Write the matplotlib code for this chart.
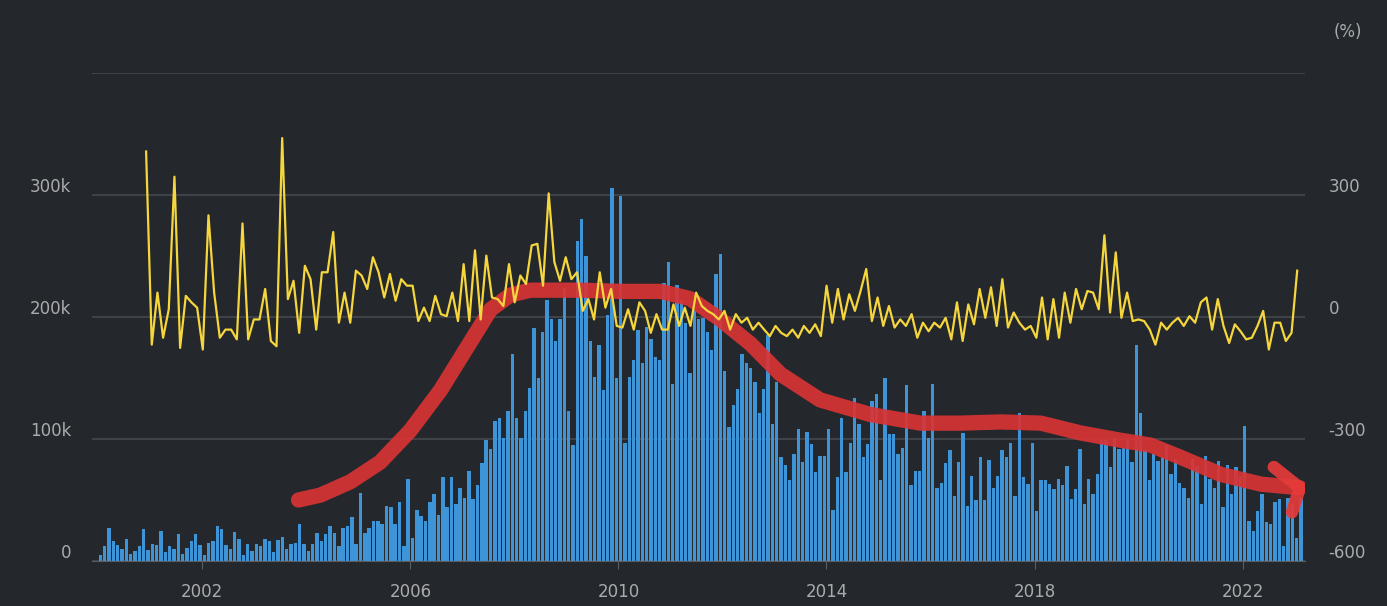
import numpy as np
import matplotlib
matplotlib.use("Agg")
import matplotlib.pyplot as plt
import matplotlib.transforms as mtransforms

plt.rcParams["axes.unicode_minus"] = False

bars_k = [
 5,12,27,16,13,10,18,6,8,12,26,9,
 14,13,25,7,12,10,22,6,11,16,22,13,
 5,15,16,29,26,13,10,24,18,5,14,8,
 14,12,18,16,7,17,20,10,14,15,30,14,
 8,14,23,16,22,29,23,12,27,29,36,14,
 56,23,27,33,33,30,45,44,30,48,12,67,
 19,42,37,33,48,55,38,69,44,69,47,60,
 52,74,51,62,80,99,92,115,117,101,123,170,
 117,101,123,142,191,150,188,214,198,180,198,224,
 123,95,262,280,250,180,151,177,140,202,306,150,
 299,97,151,165,189,162,192,182,167,165,228,245,
 145,226,214,195,154,206,198,199,188,173,235,252,
 156,110,128,141,170,162,158,147,121,141,185,112,
 147,85,79,66,88,108,81,106,96,73,86,86,
 108,42,69,117,73,97,134,112,85,96,131,137,
 66,150,104,104,88,93,144,62,74,74,123,101,
 145,60,64,80,91,53,81,105,45,70,50,85,
 50,83,60,70,91,85,97,53,121,69,63,97,
 41,66,66,63,59,67,62,78,51,59,92,47,
 67,55,71,99,99,77,101,92,93,99,81,177,
 121,91,66,88,82,85,95,71,84,64,60,52,
 84,78,47,86,67,60,82,44,79,55,77,70,
 111,33,25,41,55,32,30,48,51,12,52,47,
 19,52]

pct = [407,-68,60,-51,19,345,-76,52,36,23,-80,250,60,-51,-31,-31,-55,230,-55,-6,-6,69,-59,-72,440,44,89,-39,126,
 93,-31,110,110,209,-14,60,-14,114,102,69,147,110,48,106,40,93,77,77,-10,23,-10,52,7,2,60,-10,130,-10,164,-6,151,48,44,27,130,36,102,81,176,
 180,77,304,135,89,147,93,110,15,44,-6,110,23,69,-22,-26,19,-31,36,15,-39,7,-31,-31,31,-22,23,-22,60,27,15,7,-6,15,-31,
 7,-14,-2,-31,-14,-31,-47,-22,-39,-47,-31,-51,-22,-39,-18,-47,77,-14,69,-6,56,15,64,118,-10,48,-22,27,-26,-6,
 -22,7,-51,-14,-35,-14,-26,-2,-55,36,-59,31,-18,69,-2,73,-22,93,-26,11,-14,-31,-22,-51,48,-55,44,-51,60,-14,69,19,64,
 60,19,201,11,159,-2,60,-10,-6,-10,-31,-68,-14,-31,-14,-2,-22,2,-14,36,48,-31,44,-22,-64,-18,-35,-55,-51,-22,15,-80,-14,-14,-59,-39,114]

# hand-drawn annotation trend (year, k)
trend_year = [2003.85,2004.27,2004.85,2005.42,2006.0,2006.58,2007.06,2007.54,2007.92,2008.31,2009.27,2010.04,2010.81,2011.38,2011.96,2012.54,2013.12,2013.88,2014.85,2015.81,2016.58,2017.35,2018.12,2018.88,2019.65,2020.23,2020.81,2021.58,2022.35,2023.1]
trend_k = [50,54,65,81,107,140,173,206,218,222,222,221,221,215,198,178,153,132,120,113,113,114,113,105,99,95,85,71,63,60]

BG = "#24272c"
TXT = "#a9abae"
fig = plt.figure(figsize=(13.87, 6.06), dpi=100, facecolor=BG)
ax = fig.add_axes([92/1387, 1-561/606, (1305-92)/1387, (561-73)/606])
ax.set_facecolor(BG)
dates = 2000.0 + np.arange(len(bars_k)) / 12.0
ax.bar(dates + 1/24, np.array(bars_k) * 1000, width=1/12 * 0.78, color="#3d95d8", zorder=2)
ax.set_xlim(1999.88, 2023.2)
ax.set_ylim(0, 400000)
ax.set_yticks([0, 100000, 200000, 300000, 400000])
ax.set_yticklabels(["0", "100k", "200k", "300k", ""])
ax.set_xticks([2002, 2006, 2010, 2014, 2018, 2022])
ax.set_xticklabels(["2002", "2006", "2010", "2014", "2018", "2022"])
ax.grid(axis="y", color="#45484d", lw=1.2, zorder=0)
for s in ["top", "right", "left"]:
    ax.spines[s].set_visible(False)
ax.spines["bottom"].set_color("#5a5d62")
ax.tick_params(axis="y", length=0, colors=TXT, labelsize=12, pad=15)
ax.tick_params(axis="x", length=6, color="#5a5d62", colors=TXT, labelsize=12, pad=10)

ax2 = ax.twinx()
ax2.set_ylim(-600, 600)
ax2.set_yticks([-600, -300, 0, 300])
for s in ["top", "right", "left", "bottom"]:
    ax2.spines[s].set_visible(False)
ax2.tick_params(axis="y", length=0, colors=TXT, labelsize=12, pad=17)
pdates = np.linspace(2000.92, 2023.05, len(pct))
ax2.plot(pdates, pct, color="#f5d63d", lw=1.6, zorder=3)

up = mtransforms.ScaledTranslation(0, 10/100, fig.dpi_scale_trans)
for lab in ax.get_yticklabels() + ax2.get_yticklabels():
    lab.set_transform(lab.get_transform() + up)

ax.plot(trend_year, np.array(trend_k) * 1000, color="#d83434", lw=11, alpha=0.92,
        solid_capstyle="round", solid_joinstyle="round", zorder=5)
ax.plot([2022.6, 2023.1], [77000, 60000], color="#e53a3a", lw=9, alpha=0.92, solid_capstyle="round", zorder=5)
ax.plot([2022.95, 2023.1], [40000, 60000], color="#e53a3a", lw=9, alpha=0.92, solid_capstyle="round", zorder=5)

fig.text(1348/1387, 1-32/606, "(%)", color=TXT, fontsize=12, ha="center", va="center")
fig.savefig("out.png", dpi=100, facecolor=BG)
